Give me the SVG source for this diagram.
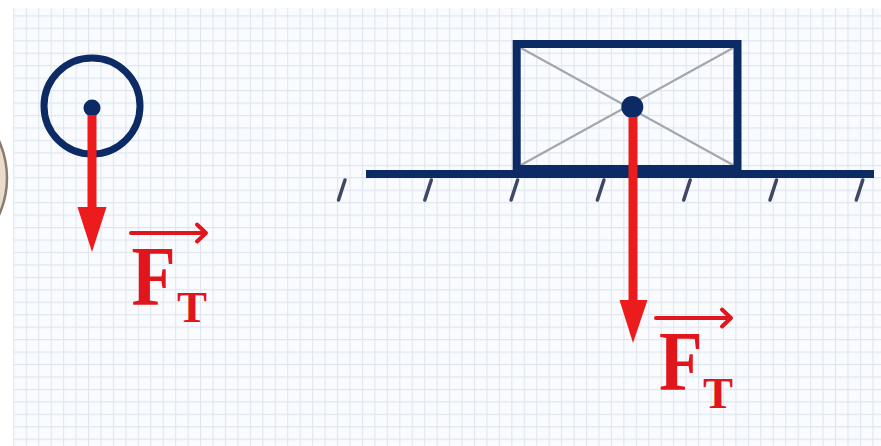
<svg xmlns="http://www.w3.org/2000/svg" width="881" height="446" viewBox="0 0 881 446">
  <defs>
    <pattern id="grid" patternUnits="userSpaceOnUse" x="13.3" y="2.9" width="12.45" height="12.45">
      <path d="M0.5 0 V12.45 M0 0.5 H12.45" fill="none" stroke="#dfe6ef" stroke-width="1.2"/>
    </pattern>
    <style>
      .navy { fill: none; stroke: #0c2a63; }
      .dot { fill: #0c2a63; }
      .diag { stroke: #a3a6ad; stroke-width: 2; fill: none; }
      .hash { stroke: #3e4862; stroke-width: 3.5; stroke-linecap: round; fill: none; }
      .force { stroke: #ec1c1c; stroke-width: 9; fill: none; }
      .head { fill: #ec1c1c; }
      .vec { stroke: #e0161c; stroke-width: 4; fill: none; stroke-linecap: round; stroke-linejoin: round; }
      .lbl { font-family: "Liberation Serif", "Times New Roman", serif; font-weight: bold; fill: #e0161c; }
    </style>
  </defs>

  <g id="background">
    <rect x="0" y="0" width="881" height="446" fill="#ffffff"/>
    <rect x="13" y="8" width="868" height="438" fill="#f9fbfe"/>
    <rect x="13" y="8" width="868" height="438" fill="url(#grid)"/>
    <circle cx="-83" cy="178" r="90" fill="#e9dccb" stroke="#8a7c6c" stroke-width="2.5"/>
  </g>

  <g id="ball">
    <circle cx="92" cy="106" r="48" class="navy" stroke-width="7"/>
    <circle cx="92" cy="108" r="8.5" class="dot"/>
  </g>

  <g id="ground">
    <line x1="366" y1="174" x2="874" y2="174" class="navy" stroke-width="8"/>
    <line x1="345" y1="180" x2="338.5" y2="200" class="hash"/>
    <line x1="431.3" y1="180" x2="424.8" y2="200" class="hash"/>
    <line x1="517.6" y1="180" x2="511.1" y2="200" class="hash"/>
    <line x1="603.9" y1="180" x2="597.4" y2="200" class="hash"/>
    <line x1="690.2" y1="180" x2="683.7" y2="200" class="hash"/>
    <line x1="776.5" y1="180" x2="770" y2="200" class="hash"/>
    <line x1="862.8" y1="180" x2="856.3" y2="200" class="hash"/>
  </g>

  <g id="box">
    <line x1="521" y1="48" x2="733" y2="165" class="diag"/>
    <line x1="733" y1="48" x2="521" y2="165" class="diag"/>
    <rect x="516.7" y="44" width="220.8" height="125" class="navy" stroke-width="8"/>
    <circle cx="632.3" cy="107" r="11" class="dot"/>
  </g>

  <g id="connectors">
    <line x1="92" y1="115" x2="92" y2="210" class="force"/>
    <polygon points="77.5,207 106.5,207 92,252" class="head"/>
    <line x1="633" y1="117" x2="633" y2="303" class="force"/>
    <polygon points="619.5,300 647.5,300 633,343" class="head"/>
  </g>

  <g id="label-ball">
    <path d="M131 233 H206 M197 224.5 L206 233 L197 241.5" class="vec"/>
    <text class="lbl" font-size="85" transform="translate(131.5 305) scale(0.85 1)">F</text>
    <text class="lbl" font-size="45" x="177" y="322">T</text>
  </g>

  <g id="label-box">
    <path d="M656 318 H731 M722 309.5 L731 318 L722 326.5" class="vec"/>
    <text class="lbl" font-size="84" transform="translate(659 390) scale(0.85 1)">F</text>
    <text class="lbl" font-size="45" x="703" y="408">T</text>
  </g>
</svg>
